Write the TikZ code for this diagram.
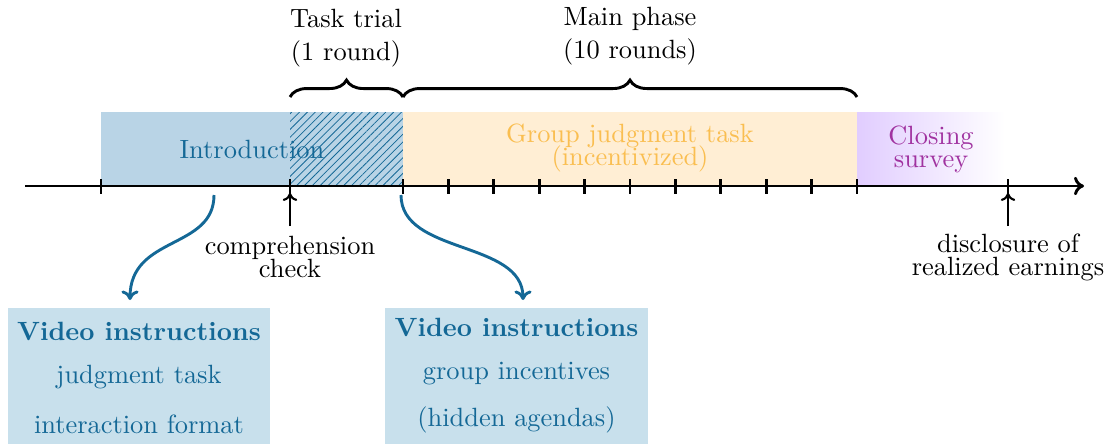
\documentclass[tikz,border=0pt]{standalone}
\usetikzlibrary{patterns,patterns.meta,decorations.pathreplacing,arrows.meta}
\definecolor{bluetext}{RGB}{20,104,150}
\definecolor{introfill}{RGB}{185,212,230}
\definecolor{vidfill}{RGB}{200,224,236}
\definecolor{orangefill}{RGB}{255,238,212}
\definecolor{orangetext}{RGB}{250,190,80}
\definecolor{purpletext}{RGB}{160,50,160}
\definecolor{purplefill}{RGB}{225,205,255}
\begin{document}
\begin{tikzpicture}[x=0.3788pt,y=-0.3788pt,
  phasebox/.style={minimum height=28.03pt, inner sep=0pt, outer sep=0pt},
  lbl/.style={align=center, inner sep=0pt},
  vidbox/.style={fill=vidfill, inner sep=0pt, outer sep=0pt, minimum height=60pt, anchor=north},
  vidtext/.style={text=bluetext, inner sep=0pt},
  axisline/.style={line width=1.1pt, -{To[length=3.8pt,width=7pt]}},
  tickline/.style={line width=1.1pt},
  uparrow/.style={line width=0.8pt, -{To[length=3pt,width=5.5pt]}},
  bluearrow/.style={draw=bluetext, line width=1.1pt, -{To[length=3.6pt,width=6.5pt]}},
  bracestyle/.style={line width=1.1pt, decorate, decoration={brace, amplitude=6.4pt}}
]
\useasboundingbox (0,0) rectangle (1107,443);

% phase boxes
\node[phasebox, fill=introfill, minimum width=114.4pt] (intro) at (252,149) {};
\node[phasebox, fill=introfill, minimum width=42.8pt] (trial) at (346.5,149) {};
\fill[pattern={Lines[angle=45, distance=2.1pt, line width=0.3pt]}, pattern color=bluetext] (trial.north west) rectangle (trial.south east);
\node[phasebox, fill=orangefill, minimum width=172pt] (main) at (630,149) {};
\node[phasebox, left color=purplefill, right color=white, minimum width=56.06pt] (closing) at (931,149) {};

\node[text=bluetext] (introlbl) at (intro.center) {Introduction};
\node[lbl, text=orangetext] (mainlbl) at (630,148) {Group judgment task\\[-3.3pt](incentivized)};
\node[lbl, text=purpletext] (closinglbl) at (931,149) {Closing\\[-3.3pt]survey};

% timeline
\coordinate (ax0) at (25,186);
\coordinate (ax1) at (1084,186);
\draw[axisline] (ax0) -- (ax1);
\foreach \x in {101,290,403,448.4,493.8,539.2,584.6,630,675.4,720.8,766.2,811.6,857,1008}
  \draw[tickline] (\x,179) -- (\x,194);

% braces
\coordinate (b0) at (290,97);
\coordinate (b1) at (403,97);
\coordinate (b2) at (857,97);
\draw[bracestyle] (b0) -- (b1);
\draw[bracestyle] (b1) -- (b2);
\node[lbl] (triallbl) at (346,38.5) {Task trial\\[0.5pt](1 round)};
\node[lbl] (mainphlbl) at (630,36.5) {Main phase\\[0.5pt](10 rounds)};

% comprehension check / disclosure
\node[lbl] (cc) at (290,257) {comprehension\\[-3.3pt]check};
\node[lbl] (disc) at (1008,257) {disclosure of\\[-3.3pt]realized earnings};
\coordinate (ccA) at (290,226);
\coordinate (ccB) at (290,193);
\coordinate (dcA) at (1008,226);
\coordinate (dcB) at (1008,193);
\draw[uparrow] (ccA) -- (ccB);
\draw[uparrow] (dcA) -- (dcB);

% video boxes
\node[vidbox, minimum width=99.25pt] (vid1) at (139,308) {};
\node[vidtext] (v1a) at (139,331) {\textbf{Video instructions}};
\node[vidtext] (v1b) at (139,377) {judgment task};
\node[vidtext] (v1c) at (139,424) {interaction format};
\node[vidbox, minimum width=99.6pt] (vid2) at (516.5,308) {};
\node[vidtext] (v2a) at (516.5,327) {\textbf{Video instructions}};
\node[vidtext] (v2b) at (516.5,374) {group incentives};
\node[vidtext] (v2c) at (516.5,420) {(hidden agendas)};

% curved arrows
\coordinate (c1s) at (214,195);
\coordinate (c1e) at (130,300);
\coordinate (c2s) at (401,195);
\coordinate (c2e) at (523,300);
\draw[bluearrow] (c1s) .. controls (214,250) and (130,235) .. (c1e);
\draw[bluearrow] (c2s) .. controls (401,255) and (523,240) .. (c2e);
\end{tikzpicture}
\end{document}
